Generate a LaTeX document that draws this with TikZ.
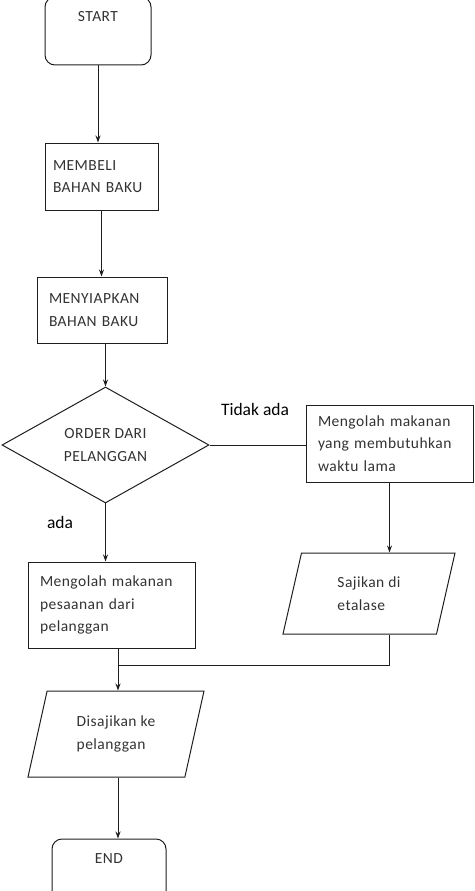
\documentclass[tikz,border=0pt]{standalone}
\usepackage{fontspec}
\setmainfont{Carlito}[LetterSpace=3]
\newfontfamily\labelfont{Carlito}
\usepackage{tikz}
\usetikzlibrary{shapes.geometric, arrows.meta, positioning, calc}
\definecolor{cLine}{RGB}{30,30,30}
\definecolor{cText}{RGB}{50,50,50}
\tikzset{
  basebox/.style={draw=cLine, line width=1pt, text=cText,
                  font=\fontsize{15.5}{22.5}\selectfont},
  termnode/.style={basebox, rectangle, rounded corners=10pt,
                   align=center, minimum width=106pt, minimum height=68pt},
  procnode/.style={basebox, rectangle, align=left, inner xsep=12pt,
                   inner ysep=0pt},
  ionode/.style={basebox, trapezium, trapezium stretches body,
                 align=left, inner sep=0pt},
  decisionnode/.style={basebox, diamond, align=center, inner sep=0pt,
                       minimum width=207pt, minimum height=92pt},
  edgelabel/.style={text=black, font=\labelfont\fontsize{17.5}{20}\selectfont},
  line/.style={draw=cLine, line width=1pt},
  arrow/.style={line, -{Stealth[length=7pt, width=5pt]}}
}
\begin{document}
\begin{tikzpicture}[x=1pt, y=-1pt]
  \useasboundingbox (0,0) rectangle (474,891);

  % main column
  \node[termnode] (start) at (98,31) {START\\\strut};
  \node[procnode, text width=97pt, inner xsep=8pt, minimum height=67pt]
      (beli) at (101.5,176.5) {MEMBELI\\BAHAN BAKU};
  \node[procnode, text width=106pt, minimum height=66pt] (siap) at (102,310)
      {MENYIAPKAN\\BAHAN BAKU};
  \node[decisionnode] (order) at (105.5,445) {ORDER DARI\\PELANGGAN};
  \node[procnode, text width=143pt, minimum height=86pt] (pesan) at (111.5,605)
      {Mengolah makanan\\pesaanan dari\\pelanggan};
  \node[ionode, trapezium left angle=62, trapezium right angle=118,
        minimum width=176pt, minimum height=86pt] (saji) at (116,734)
      {Disajikan ke\\pelanggan};
  \node[termnode, minimum width=114pt] (end) at (109,873) {END\\\strut};

  % right column
  \node[procnode, text width=143pt, minimum height=77pt] (lama) at (389.5,443.5)
      {Mengolah makanan\\yang membutuhkan\\waktu lama};
  \node[ionode, trapezium left angle=61, trapezium right angle=119,
        minimum width=172pt, minimum height=81pt] (etalase) at (369,593.5)
      {Sajikan di\\etalase};

  \coordinate (merge) at (118,665);

  % branch labels
  \node[edgelabel] (tidak) at (255,409) {Tidak ada};
  \node[edgelabel] (ada) at (60,522) {ada};

  \draw[arrow] (start.south) -- (start.south |- beli.north);
  \draw[arrow] (beli.south) -- (beli.south |- siap.north);
  \draw[arrow] (order.north |- siap.south) -- (order.north);
  \draw[line] (order.east) -- (order.east -| lama.west);
  \draw[arrow] (order.south) -- (order.south |- pesan.north);
  \draw[arrow] (lama.south) -- (lama.south |- etalase.north);
  \draw[line] (lama.south |- etalase.south) |- (merge);
  \draw[line] (merge |- pesan.south) -- (merge);
  \draw[arrow] (merge) -- (merge |- saji.north);
  \draw[arrow] (merge |- saji.south) -- (merge |- end.north);
\end{tikzpicture}
\end{document}
